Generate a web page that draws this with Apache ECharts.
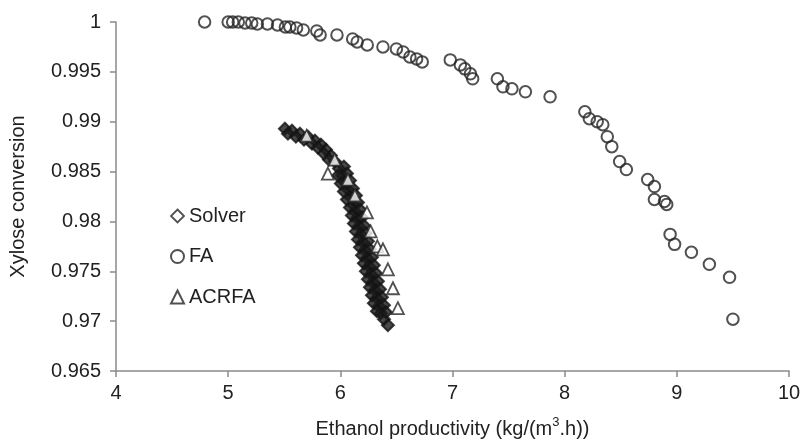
<!DOCTYPE html>
<html>
<head>
<meta charset="utf-8">
<script src="https://cdn.jsdelivr.net/npm/echarts@6/dist/echarts.min.js"></script>
<style>
html,body{margin:0;padding:0;background:#fff;}
#chart{width:812px;height:444px;}
</style>
</head>
<body>
<div id="chart"></div>
<script>
// Axis settings
var xMin = 4, xMax = 10, xStep = 1;
var yMin = 0.965, yMax = 1, yStep = 0.005;
var xTitle = 'Ethanol productivity (kg/(m';
var xTitleSup = '3';
var xTitleEnd = '.h))';
var yTitle = 'Xylose conversion';
var seriesNames = ['Solver', 'FA', 'ACRFA'];

// Solver (diamonds) – dense band
var solver = [
  [5.506,0.9893],[5.569,0.9891],[5.640,0.9888],[5.711,0.9885],[5.774,0.9881],
  [5.827,0.9877],[5.872,0.9872],[5.916,0.9866],[5.952,0.9860],[5.988,0.9853],
  [6.014,0.9846],[6.041,0.9839],[6.068,0.9832],[6.094,0.9824],[6.112,0.9817],
  [6.130,0.9810],[6.148,0.9803],[6.166,0.9795],[6.184,0.9787],[6.201,0.9779],
  [6.219,0.9771],[6.237,0.9763],[6.255,0.9755],[6.273,0.9747],[6.291,0.9739],
  [6.308,0.9731],[6.326,0.9723],[6.344,0.9715],[6.362,0.9708],[6.389,0.9702],
  [6.424,0.9696],
  [5.533,0.9888],[5.604,0.9885],[5.676,0.9882],[5.747,0.9878],[5.800,0.9874],
  [5.854,0.9868],[5.898,0.9862],
  [6.032,0.9855],[6.059,0.9848],[6.086,0.9841],[6.112,0.9833],[6.139,0.9826],
  [6.157,0.9819],[6.175,0.9812],[6.193,0.9804],[6.210,0.9796],[6.228,0.9788],
  [6.246,0.9780],[6.264,0.9772],[6.282,0.9764],[6.299,0.9756],[6.317,0.9748],
  [6.335,0.9740],[6.353,0.9732],[6.371,0.9724],[6.389,0.9716],[6.406,0.9709],
  [5.979,0.9846],[6.005,0.9838],[6.032,0.9830],[6.059,0.9822],[6.086,0.9814],
  [6.103,0.9806],[6.121,0.9798],[6.139,0.9790],[6.157,0.9782],[6.175,0.9774],
  [6.193,0.9766],[6.210,0.9758],[6.228,0.9750],[6.246,0.9742],[6.264,0.9734],
  [6.282,0.9726],[6.299,0.9718],[6.326,0.9710]
];

// FA (circles)
var fa = [
  [4.79,1.0],[5.00,1.0],[5.04,1.0],[5.09,1.0],[5.15,0.9999],[5.21,0.9999],
  [5.26,0.9998],[5.35,0.9998],[5.44,0.9997],[5.51,0.9995],[5.55,0.9995],
  [5.61,0.9994],[5.67,0.9992],[5.79,0.9991],[5.82,0.9987],[5.97,0.9987],
  [6.11,0.9983],[6.15,0.9980],[6.24,0.9977],[6.38,0.9975],[6.50,0.9973],
  [6.56,0.9970],[6.62,0.9965],[6.68,0.9963],[6.73,0.9960],[6.98,0.9962],
  [7.07,0.9957],[7.11,0.9953],[7.16,0.9948],[7.18,0.9943],[7.40,0.9943],
  [7.45,0.9935],[7.53,0.9933],[7.65,0.9930],[7.87,0.9925],[8.18,0.9910],
  [8.22,0.9903],[8.29,0.9900],[8.34,0.9897],[8.38,0.9885],[8.42,0.9875],
  [8.49,0.9860],[8.55,0.9852],[8.74,0.9842],[8.80,0.9835],[8.80,0.9822],
  [8.89,0.9820],[8.91,0.9817],[8.94,0.9787],[8.98,0.9777],[9.13,0.9769],
  [9.29,0.9757],[9.47,0.9744],[9.50,0.9702]
];

// ACRFA (triangles)
var acrfa = [
  [5.70,0.9886],[5.889,0.9848],[5.95,0.9862],[6.068,0.9842],[6.13,0.9826],
  [6.237,0.9809],[6.27,0.9790],[6.33,0.9775],[6.380,0.9772],[6.424,0.9752],
  [6.469,0.9733],[6.513,0.9713]
];

var font = 'Liberation Sans, Arial, Helvetica, sans-serif';
var ink = '#222';
var axisGrey = '#8a8a8a';
var markInk = '#262626';
var fs = 20;

var chart = echarts.init(document.getElementById('chart'), null, {renderer: 'canvas'});
chart.setOption({
  animation: false,
  backgroundColor: '#fff',
  textStyle: {fontFamily: font},
  grid: {left: 116, right: 23, top: 22, bottom: 72, containLabel: false},
  legend: {
    orient: 'vertical',
    left: 170,
    top: 206,
    padding: 0,
    itemGap: 20.5,
    itemWidth: 13,
    itemHeight: 13,
    data: [
      {name: seriesNames[0], itemStyle: {color: '#fff', borderColor: markInk, borderWidth: 1.8}},
      {name: seriesNames[1]},
      {name: seriesNames[2]}
    ],
    textStyle: {fontFamily: font, fontSize: fs, color: ink}
  },
  xAxis: {
    type: 'value',
    min: xMin, max: xMax, interval: xStep,
    splitLine: {show: false},
    axisLine: {show: true, onZero: false, lineStyle: {color: axisGrey, width: 1.5}},
    axisTick: {show: true, inside: false, length: 6, lineStyle: {color: axisGrey, width: 1.5}},
    axisLabel: {margin: 12, fontSize: fs, color: ink, fontFamily: font},
    name: '{a|' + xTitle + '}{s|' + xTitleSup + '}{a|' + xTitleEnd + '}',
    nameLocation: 'middle',
    nameGap: 45,
    nameTextStyle: {
      rich: {
        a: {fontSize: fs, color: ink, fontFamily: font, lineHeight: 23, verticalAlign: 'bottom'},
        s: {fontSize: 13, color: ink, fontFamily: font, lineHeight: 23, verticalAlign: 'top'}
      }
    }
  },
  yAxis: {
    type: 'value',
    min: yMin, max: yMax, interval: yStep,
    splitLine: {show: false},
    axisLine: {show: true, onZero: false, lineStyle: {color: axisGrey, width: 1.5}},
    axisTick: {show: true, inside: false, length: 6, lineStyle: {color: axisGrey, width: 1.5}},
    axisLabel: {
      margin: 15, fontSize: fs, color: ink, fontFamily: font,
      formatter: function (v) { return String(parseFloat(v.toFixed(3))); }
    },
    name: yTitle,
    nameLocation: 'middle',
    nameGap: 88,
    nameTextStyle: {fontSize: fs, color: ink, fontFamily: font}
  },
  series: [
    {
      name: seriesNames[0], type: 'scatter', symbol: 'diamond', symbolSize: 12,
      data: solver, z: 2,
      itemStyle: {color: '#1c1c1c', borderColor: '#141414', borderWidth: 2},
      emphasis: {disabled: true}
    },
    {
      name: seriesNames[1], type: 'scatter', symbol: 'circle', symbolSize: 11.5,
      data: fa, z: 3,
      itemStyle: {color: 'rgba(255,255,255,0)', borderColor: markInk, borderWidth: 2},
      emphasis: {disabled: true}
    },
    {
      name: seriesNames[2], type: 'scatter', symbol: 'triangle', symbolSize: 12,
      data: acrfa, z: 4,
      itemStyle: {color: '#fff', borderColor: markInk, borderWidth: 1.8},
      emphasis: {disabled: true}
    }
  ]
});
</script>
</body>
</html>
